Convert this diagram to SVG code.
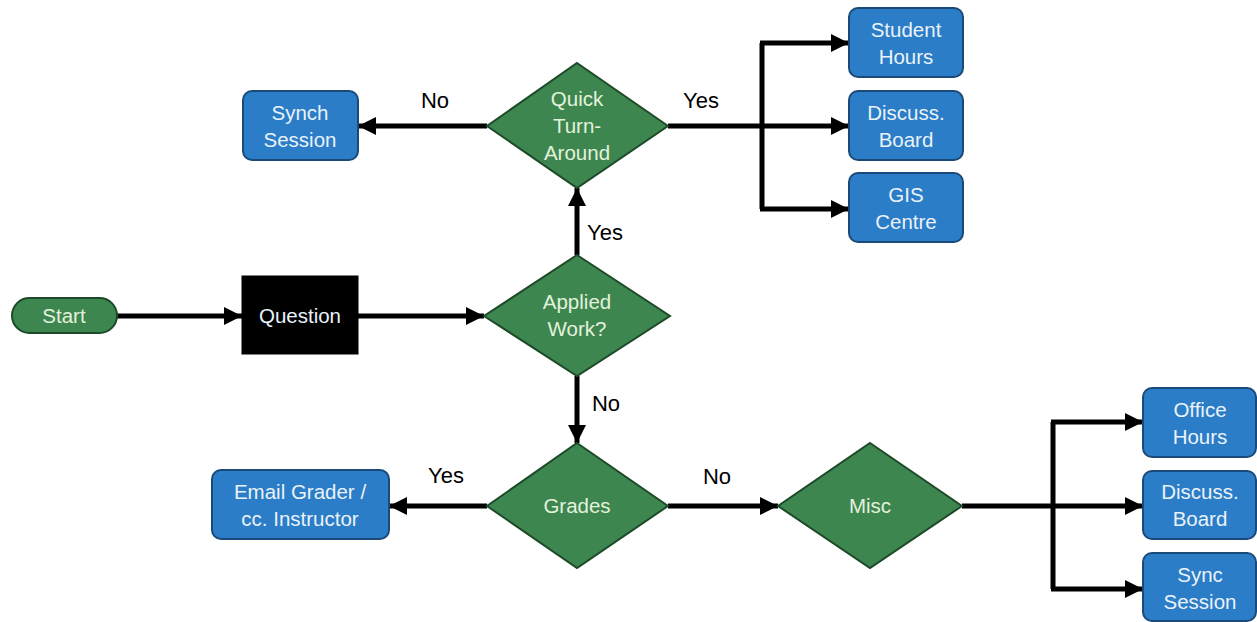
<svg xmlns="http://www.w3.org/2000/svg" width="1257" height="622" viewBox="0 0 1257 622">
<defs>
<style>
.box{fill:#2a7dc6;stroke:#1b4a78;stroke-width:2}
.dia{fill:#3e8650;stroke:#1d4a28;stroke-width:2}
.pill{fill:#3e8650;stroke:#1d4a28;stroke-width:2}
.q{fill:#000;stroke:#000}
.t{font-family:"Liberation Sans",Arial,sans-serif;font-size:20.5px;text-anchor:middle;fill:#eaf2fa}
.tg{font-family:"Liberation Sans",Arial,sans-serif;font-size:20.5px;text-anchor:middle;fill:#e3f2dc}
.lbl{font-family:"Liberation Sans",Arial,sans-serif;font-size:22px;text-anchor:middle;fill:#000}
.c{fill:none;stroke:#000;stroke-width:5}
.ca{fill:none;stroke:#000;stroke-width:5;marker-end:url(#ah)}
</style>
<marker id="ah" markerUnits="userSpaceOnUse" markerWidth="20" markerHeight="20" refX="18" refY="10" orient="auto">
<path d="M0,1 L18,10 L0,19 Z" fill="#000"/>
</marker>
</defs>
<g id="connectors">
<path class="ca" d="M117,316 H242"/>
<path class="ca" d="M358,316 H484"/>
<path class="ca" d="M577,255 V188"/>
<path class="ca" d="M577,376 V443"/>
<path class="ca" d="M487,126 H358"/>
<path class="c" d="M668,126 H762"/>
<path class="c" d="M762,209 V43"/>
<path class="ca" d="M760,43 H849"/>
<path class="ca" d="M760,126 H849"/>
<path class="ca" d="M760,209 H849"/>
<path class="ca" d="M487,506 H389"/>
<path class="ca" d="M668,506 H778"/>
<path class="c" d="M962,506 H1053"/>
<path class="c" d="M1053,589 V422"/>
<path class="ca" d="M1051,422 H1143"/>
<path class="ca" d="M1051,506 H1143"/>
<path class="ca" d="M1051,589 H1143"/>
<text class="lbl" x="435" y="108">No</text>
<text class="lbl" x="701" y="108">Yes</text>
<text class="lbl" x="605" y="240">Yes</text>
<text class="lbl" x="606" y="411">No</text>
<text class="lbl" x="446" y="483">Yes</text>
<text class="lbl" x="717" y="484">No</text>
</g>
<g id="start"><rect class="pill" x="12" y="298" width="105" height="35" rx="17.5"/><text class="tg" x="64" y="323">Start</text></g>
<g id="question"><rect class="q" x="242" y="276" width="116" height="78"/><text class="t" x="300" y="323">Question</text></g>
<g id="applied"><path class="dia" d="M577,255 L670,316 L577,376 L484,316 Z"/><text class="tg" x="577" y="309">Applied</text><text class="tg" x="577" y="336">Work?</text></g>
<g id="quick"><path class="dia" d="M577,63 L668,126 L577,188 L487,126 Z"/><text class="tg" x="577" y="106">Quick</text><text class="tg" x="577" y="133">Turn-</text><text class="tg" x="577" y="160">Around</text></g>
<g id="grades"><path class="dia" d="M577,443 L668,506 L577,568 L487,506 Z"/><text class="tg" x="577" y="513">Grades</text></g>
<g id="misc"><path class="dia" d="M870,443 L962,506 L870,568 L778,506 Z"/><text class="tg" x="870" y="513">Misc</text></g>
<g id="synch"><rect class="box" x="243" y="91" width="115" height="69" rx="9"/><text class="t" x="300" y="120">Synch</text><text class="t" x="300" y="147">Session</text></g>
<g id="student"><rect class="box" x="849" y="8" width="114" height="69" rx="9"/><text class="t" x="906" y="37">Student</text><text class="t" x="906" y="64">Hours</text></g>
<g id="board1"><rect class="box" x="849" y="91" width="114" height="69" rx="9"/><text class="t" x="906" y="120">Discuss.</text><text class="t" x="906" y="147">Board</text></g>
<g id="gis"><rect class="box" x="849" y="173" width="114" height="69" rx="9"/><text class="t" x="906" y="202">GIS</text><text class="t" x="906" y="229">Centre</text></g>
<g id="email"><rect class="box" x="212" y="470" width="177" height="69" rx="9"/><text class="t" x="300" y="499">Email Grader /</text><text class="t" x="300" y="526">cc. Instructor</text></g>
<g id="office"><rect class="box" x="1143" y="388" width="113" height="69" rx="9"/><text class="t" x="1200" y="417">Office</text><text class="t" x="1200" y="444">Hours</text></g>
<g id="board2"><rect class="box" x="1143" y="471" width="113" height="68" rx="9"/><text class="t" x="1200" y="499">Discuss.</text><text class="t" x="1200" y="526">Board</text></g>
<g id="sync"><rect class="box" x="1143" y="553" width="113" height="68" rx="9"/><text class="t" x="1200" y="582">Sync</text><text class="t" x="1200" y="609">Session</text></g>
</svg>
